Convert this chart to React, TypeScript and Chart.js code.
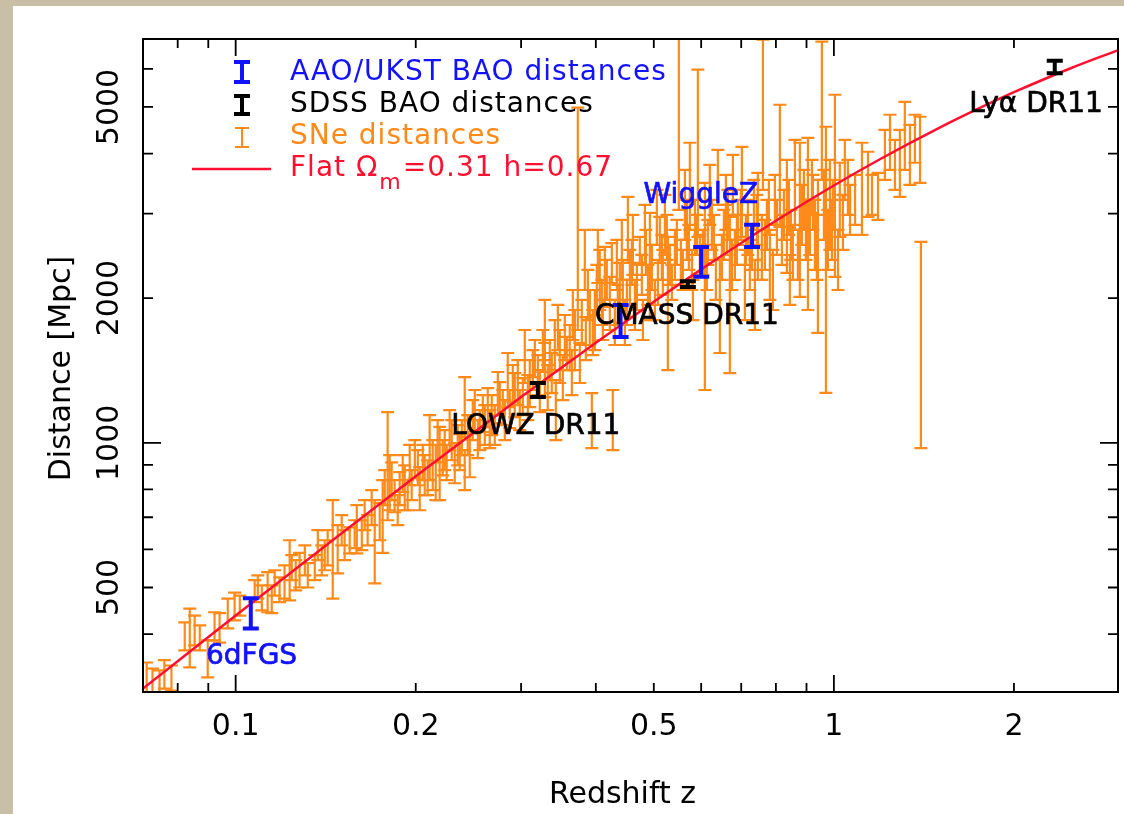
import React, { useEffect, useRef } from 'react';
import { Chart, registerables } from 'chart.js';

Chart.register(...registerables);

// ---------------- data ----------------
// Supernova distances: redshift, lower and upper end of the error bar (Mpc)
const snZ = [
  0.071, 0.0726, 0.0746, 0.076, 0.0781, 0.0822, 0.0838, 0.0854, 0.0871, 0.0898,
  0.0922, 0.094, 0.097, 0.0996, 0.1016, 0.1076, 0.1106, 0.1131, 0.1149, 0.1184,
  0.1207, 0.1231, 0.126, 0.1279, 0.132, 0.1356, 0.1393, 0.1425, 0.1453, 0.1481,
  0.1521, 0.1551, 0.1594, 0.1625, 0.1662, 0.1708, 0.1741, 0.1761, 0.1795, 0.1809,
  0.1844, 0.188, 0.1917, 0.1969, 0.2031, 0.207, 0.211, 0.2135, 0.216, 0.2193,
  0.2253, 0.2324, 0.2369, 0.2415, 0.2462, 0.2415, 0.251, 0.2559, 0.2639, 0.2711,
  0.2764, 0.2818, 0.285, 0.2928, 0.2985, 0.3043, 0.3102, 0.3163, 0.3224, 0.3287,
  0.3376, 0.3429, 0.3482, 0.3577, 0.3647, 0.369, 0.3732, 0.3761, 0.3849, 0.3908,
  0.3939, 0.3985, 0.4031, 0.4109, 0.4141, 0.4221, 0.4254, 0.427, 0.4353, 0.4386,
  0.4473, 0.4525, 0.456, 0.4649, 0.4738, 0.4794, 0.4888, 0.4925, 0.5021, 0.5117,
  0.5177, 0.5278, 0.536, 0.5423, 0.5506, 0.5592, 0.5679, 0.5744, 0.5812, 0.5924,
  0.5969, 0.6086, 0.6156, 0.6252, 0.6349, 0.6447, 0.6548, 0.6649, 0.67, 0.6832,
  0.691, 0.7018, 0.7127, 0.7236, 0.735, 0.7463, 0.761, 0.7727, 0.7816, 0.7969,
  0.8122, 0.825, 0.8345, 0.8474, 0.8607, 0.8772, 0.891, 0.9048, 0.9189, 0.9296,
  0.9403, 0.9548, 0.9698, 0.9847, 1.004, 1.023, 1.043, 1.064, 1.114, 1.14,
  1.158, 1.185, 1.217, 1.241, 1.265, 1.289, 1.314, 1.34, 1.366, 1.393,
  1.398, 0.3287, 0.3416, 0.3834, 0.4061, 0.4421, 0.4613, 0.4832, 0.5059, 0.5218,
  0.5636, 0.5857, 0.6203, 0.6398, 0.6599, 0.6779, 0.71, 0.7378, 0.7579, 0.7908,
  0.8441, 0.8706, 0.9117, 0.9772, 0.996, 1.016, 1.085, 0.1089, 0.1162, 0.1241,
  0.1305, 0.1372, 0.1409, 0.1504, 0.1581, 0.1643, 0.1688, 0.1866, 0.1939, 0.2016,
  0.2094, 0.2236, 0.2297, 0.2351, 0.2443, 0.254, 0.2609, 0.268, 0.2872, 0.2962,
  0.3079, 0.32, 0.3324, 0.3523, 0.3618,
  0.1775, 0.1823, 0.1902, 0.1954, 0.1993, 0.2055, 0.2176, 0.2219, 0.2279, 0.2388,
  0.2491, 0.2589, 0.2659, 0.2743, 0.2796, 0.2906, 0.302, 0.3139, 0.3262, 0.335,
  0.3456, 0.355, 0.3661, 0.379, 0.3879, 0.3954, 0.4015, 0.4093, 0.4173, 0.4304,
  0.4337, 0.4438, 0.4508, 0.4596, 0.4685, 0.4775, 0.485, 0.4963, 0.5079, 0.5157,
  0.5258, 0.5318, 0.5464, 0.5549, 0.5722, 0.5789, 0.5902, 0.6039, 0.6133, 0.6301,
  0.6498, 0.6624, 0.6753, 0.6884, 0.699, 0.7181, 0.7293, 0.7435, 0.7668, 0.7786,
  0.803, 0.8186, 0.8409, 0.854, 0.8841, 0.8979, 0.9224, 0.9368, 0.9624, 0.9924,
  1.0354, 1.0555,
];
const snLow = [
  303, 298, 303, 308, 305, 370, 341, 379, 370, 325,
  388, 384, 411, 427, 437, 466, 448, 444, 442, 466,
  474, 470, 493, 500, 500, 518, 530, 556, 474, 535,
  570, 589, 589, 598, 612, 510, 627, 590, 690, 724,
  717, 742, 724, 760, 724, 778, 836, 797, 760, 760,
  836, 824, 877, 797, 848, 1028, 1048, 966, 1078, 990,
  1099, 1013, 1187, 1131, 1063, 1332, 1187, 1370, 1159, 1245,
  1269, 1013, 1332, 1417, 1257, 1417, 1717, 1332, 1487, 1598,
  975, 1560, 2151, 1637, 1918, 1717, 2151, 966, 1759, 1776,
  1598, 2368, 1827, 1717, 2368, 1637, 1936, 1801, 1801, 2368,
  2031, 1417, 1983, 2183, 3053, 2080, 2402, 2774, 1801, 2683,
  2236, 1288, 2346, 2520, 1983, 1538, 2402, 2644, 1397, 2183,
  2581, 2683, 2346, 2080, 2774, 2183, 3361, 2520, 1983, 2842,
  2815, 2644, 2258, 2402, 2774, 2012, 2774, 1890, 3009, 2290,
  1693, 3526, 1270, 2520, 2215, 2683, 3203, 2709, 2709, 2953,
  2982, 2911, 3526, 3699, 3361, 3250, 3699, 3443, 3827, 3475,
  975, 1487, 1417, 2080, 1890, 2183, 2236, 2346, 2581, 2460,
  2644, 2460, 2842, 3127, 2774, 2982, 1801, 1717, 2183, 1890,
  1936, 2183, 2460, 2290, 2774, 2080, 2842, 474, 481, 518,
  530, 570, 543, 612, 604, 658, 674, 674, 724, 816,
  778, 877, 920, 898, 943, 929, 990, 1038, 1073, 1198,
  1115, 1257, 1170, 1227, 1417,
  742, 760, 790, 816, 844, 836, 911, 856, 966, 943,
  1013, 1053, 975, 1142, 1089, 1216, 1142, 1288, 1404, 1351,
  1560, 1487, 1637, 1598, 1801, 1523, 1845, 1759, 1983, 1598,
  2080, 1936, 1759, 2131, 1890, 2031, 2236, 2080, 1936, 2183,
  2402, 2131, 2346, 2131, 2290, 2080, 2461, 2236, 2080, 2402,
  2183, 2461, 2080, 2346, 2644, 2461, 2290, 2581, 2290, 2709,
  2461, 2346, 2709, 2183, 2581, 2402, 2774, 2183, 2644, 2402,
  2520, 2982,
];
const snHigh = [
  349, 339, 336, 353, 344, 423, 452, 437, 417, 388,
  444, 442, 474, 488, 481, 518, 505, 538, 505, 525,
  556, 627, 570, 590, 562, 584, 612, 658, 760, 674,
  658, 667, 742, 690, 707, 760, 749, 836, 1159, 943,
  836, 869, 898, 877, 890, 943, 1142, 1013, 990, 1079,
  990, 999, 1043, 966, 1053, 1370, 1288, 1170, 1300, 1198,
  1338, 1227, 1538, 1397, 1288, 1717, 1487, 1637, 1417, 1614,
  1538, 1351, 1717, 1661, 1560, 1890, 4982, 1614, 1827, 2080,
  1269, 2080, 2774, 1983, 2557, 2215, 2605, 1288, 2131, 2368,
  1983, 3250, 2520, 2183, 2683, 1983, 2346, 3009, 2183, 2953,
  2520, 2683, 2346, 2774, 7240, 2520, 3203, 4212, 2183, 5977,
  2709, 3476, 2911, 3203, 2581, 2402, 3053, 3361, 2953, 2774,
  3203, 4131, 2982, 2644, 3526, 3647, 6902, 3203, 2774, 3612,
  5054, 3361, 3881, 3053, 4272, 4212, 3699, 4312, 3881, 3203,
  3526, 6837, 4548, 3881, 5301, 3827, 4272, 3443, 4212, 4034,
  3612, 3647, 4482, 4817, 4272, 4482, 5125, 4591, 4817, 4771,
  2619, 1983, 1801, 2774, 2520, 2911, 2982, 3127, 3361, 3281,
  3699, 3203, 3789, 4072, 3612, 3975, 2520, 2402, 2982, 2520,
  2460, 2774, 3203, 3053, 3526, 2774, 3612, 530, 543, 584,
  612, 658, 627, 707, 690, 760, 797, 778, 836, 966,
  920, 1063, 1115, 1089, 1142, 1115, 1198, 1257, 1288, 1487,
  1384, 1523, 1452, 1523, 1759,
  877, 911, 943, 990, 1013, 990, 1115, 1013, 1170, 1115,
  1227, 1257, 1170, 1404, 1288, 1452, 1364, 1560, 1717, 1637,
  1936, 1845, 2080, 1983, 2290, 1890, 2346, 2183, 2402, 1983,
  2644, 2402, 2183, 2644, 2346, 2461, 2774, 2581, 2402, 2709,
  2982, 2581, 2911, 2644, 2842, 2520, 2982, 2774, 2581, 2982,
  2709, 3127, 2644, 2982, 3361, 3203, 2842, 3281, 2911, 3526,
  3203, 2982, 3526, 2842, 3443, 3203, 3612, 2982, 3699, 3203,
  3281, 3881,
];

// Model curve: flat Omega_m = 0.31, h = 0.67 (comoving distance, Mpc)
const modelZ = [0.07, 0.1, 0.15, 0.2, 0.3, 0.4, 0.5, 0.6, 0.7, 0.8, 1.0, 1.2, 1.5, 1.75, 2.0, 2.25, 2.5, 2.75, 3.0];
const modelD = [308, 437, 647, 852, 1245, 1616, 1966, 2296, 2606, 2898, 3432, 3906, 4525, 4972, 5366, 5717, 6033, 6317, 6576];

// AAO/UKST BAO distances (6dFGS, WiggleZ)
const aaoZ = [0.106, 0.44, 0.6, 0.73];
const aaoLow = [411, 1661, 2215, 2557];
const aaoHigh = [475, 1936, 2557, 2842];

// SDSS BAO distances (LOWZ, CMASS, Lyα)
const sdssZ = [0.32, 0.57, 2.34];
const sdssLow = [1245, 2110, 5880];
const sdssHigh = [1332, 2170, 6240];

// Annotations
const annotText = ['6dFGS', 'LOWZ DR11', 'CMASS DR11', 'WiggleZ', 'Lyα DR11'];
const annotZ = [0.1063, 0.3175, 0.5679, 0.5992, 2.177];
const annotD = [359, 1078, 1827, 3266, 5054];
const annotIsBlue = [true, false, false, true, false];

// Axes
const xMin = 0.07;
const xMax = 2.985;
const yMin = 303;
const yMax = 6925;
const xTickValues = [0.08, 0.09, 0.1, 0.2, 0.3, 0.4, 0.5, 0.6, 0.7, 0.8, 0.9, 1, 2];
const xMajorTicks = [0.1, 1];
const xLabelValues = [0.1, 0.2, 0.5, 1, 2];
const xTickLabels = ['0.1', '0.2', '0.5', '1', '2'];
const yTickValues = [400, 500, 600, 700, 800, 900, 1000, 2000, 3000, 4000, 5000, 6000];
const yMajorTicks = [1000];
const yLabelValues = [500, 1000, 2000, 5000];
const yTickLabels = ['500', '1000', '2000', '5000'];

const legendLabels = ['AAO/UKST BAO distances', 'SDSS BAO distances', 'SNe distances'];

// ---------------- styles ----------------
const BLUE = '#1212ff';
const BLACK = '#000000';
const ORANGE = '#ff8a1a';
const RED = '#ff1030';
const FONT = '"DejaVu Sans", "Liberation Sans", sans-serif';

function drawI(ctx: CanvasRenderingContext2D, x: number, yTop: number, yBot: number, half: number, width: number, color: string) {
  ctx.strokeStyle = color;
  ctx.lineWidth = width;
  ctx.beginPath();
  ctx.moveTo(x, yTop);
  ctx.lineTo(x, yBot);
  ctx.moveTo(x - half, yTop);
  ctx.lineTo(x + half, yTop);
  ctx.moveTo(x - half, yBot);
  ctx.lineTo(x + half, yBot);
  ctx.stroke();
}

function drawBars(chart: any, datasetIndex: number, half: number, width: number, color: string) {
  const ctx: CanvasRenderingContext2D = chart.ctx;
  const xs = chart.scales.x;
  const ys = chart.scales.y;
  const area = chart.chartArea;
  ctx.save();
  ctx.beginPath();
  ctx.rect(area.left, area.top, area.right - area.left, area.bottom - area.top);
  ctx.clip();
  const data = chart.data.datasets[datasetIndex].data as any[];
  data.forEach((p) => {
    const x = xs.getPixelForValue(p.x);
    const yLo = ys.getPixelForValue(p.lo);
    const yHi = ys.getPixelForValue(p.hi);
    drawI(ctx, x, yHi, yLo, half, width, color);
  });
  ctx.restore();
}

const decorPlugin = {
  id: 'decor',
  beforeDatasetsDraw(chart: any) {
    drawBars(chart, 3, 6.5, 2.2, ORANGE);
  },
  afterDatasetsDraw(chart: any) {
    const ctx: CanvasRenderingContext2D = chart.ctx;
    const xs = chart.scales.x;
    const ys = chart.scales.y;
    const a = chart.chartArea;

    // BAO bars
    drawBars(chart, 1, 8, 4, BLUE);
    drawBars(chart, 2, 8, 4, BLACK);

    ctx.save();
    // Annotations (slightly heavier text)
    ctx.font = `28px ${FONT}`;
    ctx.textAlign = 'center';
    ctx.textBaseline = 'middle';
    ctx.lineWidth = 0.7;
    annotText.forEach((t, i) => {
      const col = annotIsBlue[i] ? BLUE : BLACK;
      ctx.fillStyle = col;
      ctx.strokeStyle = col;
      const px = xs.getPixelForValue(annotZ[i]);
      const py = ys.getPixelForValue(annotD[i]);
      ctx.fillText(t, px, py);
      ctx.strokeText(t, px, py);
    });

    // Frame
    ctx.strokeStyle = BLACK;
    ctx.lineWidth = 2;
    ctx.strokeRect(a.left, a.top, a.right - a.left, a.bottom - a.top);

    // Ticks
    ctx.lineWidth = 1.8;
    ctx.beginPath();
    xTickValues.forEach((v) => {
      const x = xs.getPixelForValue(v);
      const len = xMajorTicks.includes(v) ? 17 : 9;
      ctx.moveTo(x, a.bottom);
      ctx.lineTo(x, a.bottom - len);
      ctx.moveTo(x, a.top);
      ctx.lineTo(x, a.top + len);
    });
    yTickValues.forEach((v) => {
      const y = ys.getPixelForValue(v);
      const len = yMajorTicks.includes(v) ? 18 : 10;
      ctx.moveTo(a.left, y);
      ctx.lineTo(a.left + len, y);
      ctx.moveTo(a.right, y);
      ctx.lineTo(a.right - len, y);
    });
    ctx.stroke();

    // Tick labels
    ctx.fillStyle = BLACK;
    ctx.font = `30px ${FONT}`;
    ctx.textAlign = 'center';
    ctx.textBaseline = 'alphabetic';
    xLabelValues.forEach((v, i) => {
      ctx.fillText(xTickLabels[i], xs.getPixelForValue(v), 735);
    });
    yLabelValues.forEach((v, i) => {
      ctx.save();
      ctx.translate(118, ys.getPixelForValue(v));
      ctx.rotate(-Math.PI / 2);
      ctx.fillText(yTickLabels[i], 0, 0);
      ctx.restore();
    });

    // Axis titles
    ctx.fillText('Redshift z', (a.left + a.right) / 2 - 8, 803);
    ctx.save();
    ctx.translate(70, (a.top + a.bottom) / 2 + 3);
    ctx.rotate(-Math.PI / 2);
    ctx.fillText('Distance [Mpc]', 0, 0);
    ctx.restore();

    // Legend
    const lx = 290;
    drawI(ctx, 242, 62, 82, 8, 4, BLUE);
    drawI(ctx, 242, 96, 114, 8, 4, BLACK);
    drawI(ctx, 242, 128, 147, 7, 2, ORANGE);
    ctx.strokeStyle = RED;
    ctx.lineWidth = 2.5;
    ctx.beginPath();
    ctx.moveTo(192, 169);
    ctx.lineTo(271, 169);
    ctx.stroke();

    ctx.font = `28px ${FONT}`;
    (ctx as any).letterSpacing = '1px';
    ctx.textAlign = 'left';
    ctx.textBaseline = 'alphabetic';
    const legendColors = [BLUE, BLACK, ORANGE];
    const baselines = [80, 112, 144];
    legendLabels.forEach((t, i) => {
      ctx.fillStyle = legendColors[i];
      ctx.fillText(t, lx, baselines[i]);
    });
    ctx.fillStyle = RED;
    let cx = lx;
    const p1 = 'Flat Ω';
    ctx.fillText(p1, cx, 176);
    cx += ctx.measureText(p1).width + 1;
    ctx.font = `22px ${FONT}`;
    ctx.fillText('m', cx, 189);
    cx += ctx.measureText('m').width + 1;
    ctx.font = `28px ${FONT}`;
    ctx.fillText('=0.31 h=0.67', cx, 176);
    (ctx as any).letterSpacing = '0px';

    ctx.restore();
  },
};

export default function App() {
  const canvasRef = useRef<HTMLCanvasElement | null>(null);

  useEffect(() => {
    if (!canvasRef.current) return;
    const chart = new Chart(canvasRef.current, {
      type: 'scatter',
      data: {
        datasets: [
          {
            type: 'line',
            label: 'Flat Ωm=0.31 h=0.67',
            data: modelZ.map((z, i) => ({ x: z, y: modelD[i] })),
            borderColor: RED,
            borderWidth: 2.5,
            pointRadius: 0,
            fill: false,
            cubicInterpolationMode: 'monotone',
          } as any,
          {
            label: 'AAO/UKST BAO distances',
            data: aaoZ.map((z, i) => ({ x: z, y: Math.sqrt(aaoLow[i] * aaoHigh[i]), lo: aaoLow[i], hi: aaoHigh[i] })),
            pointRadius: 0,
          },
          {
            label: 'SDSS BAO distances',
            data: sdssZ.map((z, i) => ({ x: z, y: Math.sqrt(sdssLow[i] * sdssHigh[i]), lo: sdssLow[i], hi: sdssHigh[i] })),
            pointRadius: 0,
          },
          {
            label: 'SNe distances',
            data: snZ.map((z, i) => ({ x: z, y: Math.sqrt(snLow[i] * snHigh[i]), lo: snLow[i], hi: snHigh[i] })),
            pointRadius: 0,
          },
        ],
      },
      options: {
        animation: false,
        responsive: false,
        devicePixelRatio: 1,
        events: [],
        layout: { padding: { left: 143, right: 6, top: 39, bottom: 122 } },
        plugins: { legend: { display: false }, tooltip: { enabled: false } },
        scales: {
          x: { type: 'logarithmic', min: xMin, max: xMax, display: false },
          y: { type: 'logarithmic', min: yMin, max: yMax, display: false },
        },
      },
      plugins: [decorPlugin],
    });
    return () => chart.destroy();
  }, []);

  return (
    <div style={{ position: 'fixed', left: 0, top: 0, width: 1124, height: 814, background: '#c9bfa6', overflow: 'hidden' }}>
      <div style={{ position: 'absolute', left: 13, top: 6, right: 0, bottom: 0, background: '#ffffff' }} />
      <canvas ref={canvasRef} width={1124} height={814} style={{ position: 'absolute', left: 0, top: 0, width: 1124, height: 814 }} />
    </div>
  );
}
